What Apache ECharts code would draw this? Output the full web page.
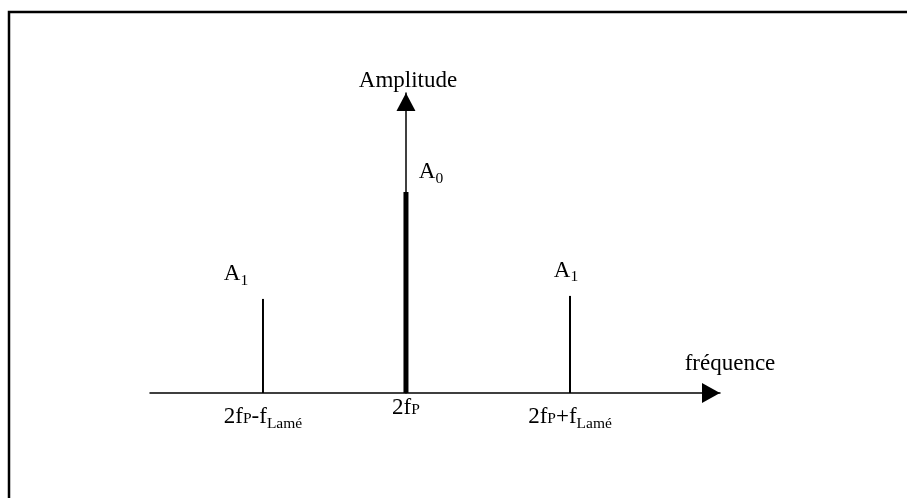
<!DOCTYPE html>
<html><head><meta charset="utf-8">
<script src="https://cdn.jsdelivr.net/npm/echarts@6/dist/echarts.min.js"></script>
<style>html,body{margin:0;padding:0;background:#fff}#c{width:907px;height:498px}</style>
</head><body><div id="c"></div>
<script>
// Spectral lines (frequency in units of f_Lamé around 2f_P, amplitude relative to A0)
const lineNames = ['A1', 'A0', 'A1'];
const linePositions = [-1, 0, 1.147];
const lineAmplitudes = [0.468, 1, 0.483];
const tickValues = [-1, 0, 1.147];
const tickLabels = ['2fP-fLamé', '2fP', '2fP+fLamé'];
const xName = 'fréquence';
const yName = 'Amplitude';

const FONT = '"Liberation Serif", "Times New Roman", serif';
const MAIN = 23, SUB = 15.5;

// styles (layout only)
const labelDx = [-27, 25, -4];
const labelDy = [-25, -20, -25];
const lineWidths = [2, 5, 2];

function subLabel(name) { // 'A1' -> A with subscript 1
  return '{n|' + name[0] + '}{d|' + name.slice(1) + '}';
}
function tickRich(label) {
  // '2fP-fLamé' -> 2f + sub P + -f + sub Lamé
  const m = label.match(/^2fP(?:([+-])f(.+))?$/);
  if (!m[1]) return '{c|2f}{cp|P}';
  return '{n|2f}{p|P}{n|' + m[1] + 'f}{s|' + m[2] + '}';
}

const chart = echarts.init(document.getElementById('c'), null, {renderer: 'canvas'});
chart.setOption({
  backgroundColor: '#fff',
  animation: false,
  textStyle: {fontFamily: FONT, color: '#000'},
  graphic: [{
    type: 'rect', z: 0, silent: true,
    shape: {x: 9, y: 12, width: 1000, height: 1000},
    style: {fill: 'none', stroke: '#000', lineWidth: 2.5}
  }],
  grid: {left: 150, right: 187, top: 93, bottom: 105},
  xAxis: {
    type: 'value', min: -1.79, max: 2.196,
    axisLine: {symbol: ['none', 'triangle'], symbolSize: [20, 18], symbolOffset: [0, -9], lineStyle: {color: '#000', width: 1.5}},
    axisTick: {show: false},
    splitLine: {show: false},
    axisLabel: {
      customValues: tickValues,
      margin: 3,
      formatter: function (v) {
        let i = tickValues.findIndex(t => Math.abs(t - v) < 1e-6);
        return i < 0 ? '' : tickRich(tickLabels[i]);
      },
      rich: {
        c: {fontFamily: FONT, fontSize: MAIN, lineHeight: MAIN, color: '#000', verticalAlign: 'top'},
        cp: {fontFamily: FONT, fontSize: SUB, lineHeight: SUB, color: '#000', verticalAlign: 'top', padding: [6, 0, 0, 0]},
        n: {fontFamily: FONT, fontSize: MAIN, lineHeight: MAIN, color: '#000', verticalAlign: 'top', padding: [9, 0, 0, 0]},
        p: {fontFamily: FONT, fontSize: SUB, lineHeight: SUB, color: '#000', verticalAlign: 'top', padding: [15, 0, 0, 0]},
        s: {fontFamily: FONT, fontSize: SUB, lineHeight: SUB, color: '#000', verticalAlign: 'top', padding: [20, 0, 0, 0]}
      }
    },
    name: xName, nameLocation: 'end', nameGap: 10,
    nameTextStyle: {fontFamily: FONT, fontSize: MAIN, color: '#000', align: 'center', verticalAlign: 'bottom', padding: [0, 0, 18, 0]}
  },
  yAxis: {
    type: 'value', min: 0, max: 1.4925,
    axisLine: {onZero: true, symbol: ['none', 'triangle'], symbolSize: [19, 18], symbolOffset: [0, -9], lineStyle: {color: '#000', width: 1.5}},
    axisTick: {show: false},
    axisLabel: {show: false},
    splitLine: {show: false},
    name: yName, nameLocation: 'end', nameGap: 1,
    nameTextStyle: {fontFamily: FONT, fontSize: MAIN, color: '#000', padding: [0, 0, 0, 4]}
  },
  series: [{
    type: 'custom',
    data: linePositions.map((x, i) => [x, lineAmplitudes[i]]),
    renderItem: function (params, api) {
      const i = params.dataIndex;
      const x = api.value(0), y = api.value(1);
      const p0 = api.coord([x, 0]);
      const p1 = api.coord([x, y]);
      return {
        type: 'group',
        children: [
          {type: 'line', shape: {x1: p0[0], y1: p0[1], x2: p1[0], y2: p1[1]},
           style: {stroke: '#000', lineWidth: lineWidths[i]}},
          {type: 'text', x: p1[0] + labelDx[i], y: p1[1] + labelDy[i],
           style: {
             text: subLabel(lineNames[i]), align: 'center', verticalAlign: 'middle',
             rich: {
               n: {fontFamily: FONT, fontSize: MAIN, lineHeight: MAIN, fill: '#000', verticalAlign: 'top'},
               d: {fontFamily: FONT, fontSize: SUB, lineHeight: SUB, fill: '#000', verticalAlign: 'top', padding: [10, 0, 0, 0]}
             }
           }}
        ]
      };
    }
  }]
});
</script>
</body></html>
